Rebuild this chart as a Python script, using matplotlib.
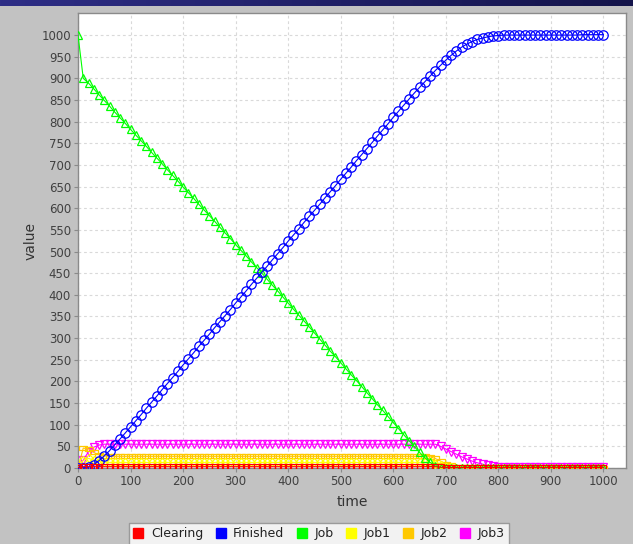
import numpy as np
import matplotlib
matplotlib.use("Agg")
import matplotlib.pyplot as plt
from matplotlib.lines import Line2D
from matplotlib.colors import LinearSegmentedColormap

time = [
    0, 10, 20, 30, 40, 50, 60, 70, 80, 90,
    100, 110, 120, 130, 140, 150, 160, 170, 180, 190,
    200, 210, 220, 230, 240, 250, 260, 270, 280, 290,
    300, 310, 320, 330, 340, 350, 360, 370, 380, 390,
    400, 410, 420, 430, 440, 450, 460, 470, 480, 490,
    500, 510, 520, 530, 540, 550, 560, 570, 580, 590,
    600, 610, 620, 630, 640, 650, 660, 670, 680, 690,
    700, 710, 720, 730, 740, 750, 760, 770, 780, 790,
    800, 810, 820, 830, 840, 850, 860, 870, 880, 890,
    900, 910, 920, 930, 940, 950, 960, 970, 980, 990,
    1000,
]

clearing = [
    0, 3, 3, 3, 3, 3, 3, 3, 3, 3,
    3, 3, 3, 3, 3, 3, 3, 3, 3, 3,
    3, 3, 3, 3, 3, 3, 3, 3, 3, 3,
    3, 3, 3, 3, 3, 3, 3, 3, 3, 3,
    3, 3, 3, 3, 3, 3, 3, 3, 3, 3,
    3, 3, 3, 3, 3, 3, 3, 3, 3, 3,
    3, 3, 3, 3, 3, 3, 3, 3, 3, 2,
    1, 1, 1, 1, 1, 1, 1, 1, 1, 1,
    1, 1, 1, 1, 1, 1, 1, 1, 1, 1,
    1, 1, 1, 1, 1, 1, 1, 1, 1, 1,
    1,
]

finished = [
    0, 0, 2, 8, 17, 28, 40, 54, 67, 81,
    95, 109, 123, 138, 152, 166, 181, 195, 209, 223,
    238, 252, 266, 281, 295, 309, 324, 338, 352, 366,
    381, 395, 409, 424, 438, 452, 466, 481, 495, 509,
    524, 538, 552, 567, 581, 595, 609, 624, 638, 652,
    667, 681, 695, 710, 724, 738, 752, 767, 781, 795,
    810, 824, 838, 852, 866, 879, 892, 905, 918, 930,
    942, 953, 963, 972, 979, 985, 990, 993, 996, 998,
    999, 1000, 1000, 1000, 1000, 1000, 1000, 1000, 1000, 1000,
    1000, 1000, 1000, 1000, 1000, 1000, 1001, 1001, 1001, 1001,
    1001,
]

job = [
    1000, 900, 889, 876, 862, 849, 836, 822, 809, 796,
    782, 769, 756, 743, 729, 716, 703, 689, 676, 663,
    649, 636, 623, 609, 596, 583, 570, 556, 543, 530,
    516, 503, 490, 476, 463, 450, 436, 422, 409, 395,
    381, 367, 353, 340, 326, 312, 298, 284, 270, 257,
    243, 229, 215, 202, 188, 174, 160, 146, 133, 119,
    105, 91, 77, 63, 50, 36, 24, 13, 5, 1,
    0, 0, 0, 0, 0, 0, 0, 0, 0, 0,
    0, 0, 0, 0, 0, 0, 0, 0, 0, 0,
    0, 0, 0, 0, 0, 0, 0, 0, 0, 0,
    0,
]

job1 = [
    0, 18, 22, 19, 15, 13, 13, 13, 13, 13,
    13, 13, 13, 13, 13, 13, 13, 13, 13, 13,
    13, 13, 13, 13, 13, 13, 13, 13, 13, 13,
    13, 13, 13, 13, 13, 13, 13, 13, 13, 13,
    13, 13, 13, 13, 13, 13, 13, 13, 13, 13,
    13, 13, 13, 13, 13, 13, 13, 13, 13, 13,
    13, 13, 13, 13, 13, 13, 13, 13, 10, 6,
    3, 2, 1, 1, 1, 1, 1, 1, 1, 1,
    1, 1, 1, 1, 1, 1, 1, 1, 1, 1,
    1, 1, 1, 1, 1, 1, 1, 1, 1, 1,
    1,
]

job2 = [
    0, 46, 44, 36, 30, 28, 27, 27, 27, 27,
    27, 27, 27, 27, 27, 27, 27, 27, 27, 27,
    27, 27, 27, 27, 27, 27, 27, 27, 27, 27,
    27, 27, 27, 27, 27, 27, 27, 27, 27, 27,
    27, 27, 27, 27, 27, 27, 27, 27, 27, 27,
    27, 27, 27, 27, 27, 27, 27, 27, 27, 27,
    27, 27, 27, 27, 27, 27, 27, 26, 22, 16,
    10, 6, 3, 1, 0, 0, 0, 0, 0, 0,
    0, 0, 0, 0, 0, 0, 0, 0, 0, 0,
    0, 0, 0, 0, 0, 0, 0, 0, 0, 0,
    0,
]

job3 = [
    3, 18, 38, 48, 53, 55, 55, 55, 55, 55,
    55, 55, 55, 55, 55, 55, 55, 55, 55, 55,
    55, 55, 55, 55, 55, 55, 55, 55, 55, 55,
    55, 55, 55, 55, 55, 55, 55, 55, 55, 55,
    55, 55, 55, 55, 55, 55, 55, 55, 55, 55,
    55, 55, 55, 55, 55, 55, 55, 55, 55, 55,
    55, 55, 55, 55, 55, 55, 55, 55, 55, 50,
    44, 38, 32, 26, 21, 16, 12, 9, 6, 4,
    3, 3, 3, 3, 3, 3, 3, 3, 3, 3,
    3, 3, 3, 3, 3, 3, 3, 3, 3, 3,
    3,
]

series_names = ["Clearing", "Finished", "Job", "Job1", "Job2", "Job3"]
series_values = [clearing, finished, job, job1, job2, job3]
colors = ["#ff0000", "#0000ff", "#00ff00", "#ffff00", "#ffc800", "#ff00ff"]
hrect = [(-1, -0.5), (1, -0.5), (1, 0.5), (-1, 0.5), (-1, -0.5)]
markers = ["s", "o", "^", "D", hrect, "v"]
msizes = [4, 6.8, 6.3, 4.5, 6, 6.3]

W, H = 633, 544
fig = plt.figure(figsize=(W / 100, H / 100), dpi=100, facecolor="#c2c2c2")

# title bar strip at the top
bar = fig.add_axes([0, 1 - 6 / H, 1, 6 / H])
grad = np.linspace(0, 1, 256)[None, :]
cm = LinearSegmentedColormap.from_list("bar", ["#2e2e86", "#14144a"])
bar.imshow(grad, aspect="auto", cmap=cm, extent=[0, 1, 0, 1])
bar.axis("off")

ax = fig.add_axes([78 / W, 1 - 468 / H, (626 - 78) / W, (468 - 13) / H])
ax.set_facecolor("white")

for i, (name, vals, c, m, ms) in enumerate(zip(series_names, series_values, colors, markers, msizes)):
    ax.plot(time, vals, color=c, linewidth=0.8, marker=m, markersize=ms,
            markerfacecolor="none", markeredgecolor=c, markeredgewidth=0.9,
            zorder=10 - i, label=name)

ax.set_xlim(0, 1043)
ax.set_ylim(0, 1051)
ax.set_xticks(np.arange(0, 1001, 100))
ax.set_yticks(np.arange(0, 1001, 50))
ax.grid(True, color="#d9d9d9", linestyle=(0, (2.5, 2.5)), linewidth=0.8, zorder=0)
ax.set_axisbelow(True)
for s in ax.spines.values():
    s.set_color("#8a8a8a")
    s.set_linewidth(1.0)
ax.tick_params(direction="out", length=3, color="#8a8a8a", labelcolor="#404040",
               labelsize=8.5, pad=2)
ax.set_xlabel("time", fontsize=10, color="#333333", labelpad=5)
ax.set_ylabel("value", fontsize=10, color="#333333", labelpad=3)

handles = [Line2D([], [], marker="s", color=c, linestyle="None", markersize=7)
           for c in colors]
leg = fig.legend(handles, series_names, loc="upper center",
                 bbox_to_anchor=(319 / W, 1 - 523 / H), ncol=6, fontsize=9,
                 frameon=True, fancybox=False, edgecolor="#8a8a8a",
                 handlelength=0.8, handletextpad=0.6, columnspacing=1.0,
                 borderpad=0.35, borderaxespad=0)
leg.get_frame().set_linewidth(1.0)
for t in leg.get_texts():
    t.set_color("#222222")

fig.savefig("out.png", dpi=100, facecolor=fig.get_facecolor())
